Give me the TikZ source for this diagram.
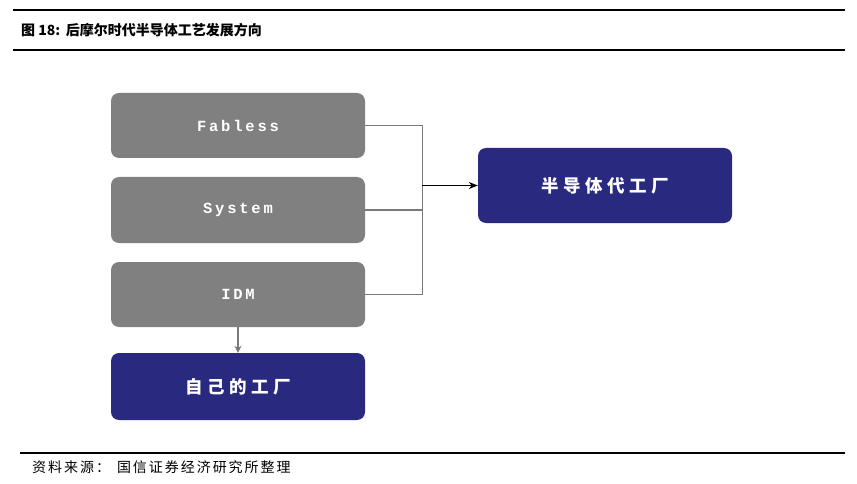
\documentclass[tikz,border=0pt]{standalone}
\usepackage{fontspec}
\setmainfont{Liberation Sans}
\newfontfamily\cjk{Noto Sans CJK SC}
\newfontfamily\cjkbox[LetterSpace=26]{Noto Sans CJK SC}
\newfontfamily\cjksrc[LetterSpace=14]{Noto Sans CJK SC}
\newfontfamily\boxmono[LetterSpace=18]{Liberation Mono}
\usetikzlibrary{arrows.meta}
\definecolor{boxgray}{HTML}{808080}
\definecolor{navy}{HTML}{28297F}
\definecolor{linegray}{HTML}{7A7A7A}
\begin{document}
\begin{tikzpicture}[x=1pt,y=-1pt,
  gbox/.style={fill=boxgray, rounded corners=8pt, minimum width=254pt, minimum height=65pt, inner sep=0pt, text=white, font=\boxmono\bfseries\fontsize{15.5}{18}\selectfont},
  nbox/.style={fill=navy, rounded corners=8pt, minimum width=254pt, inner sep=0pt, text=white, font=\cjkbox\bfseries\fontsize{17.5}{20}\selectfont},
  link/.style={draw=linegray, line width=1.3pt},
  arr/.style={draw=black, line width=1.3pt, -{Stealth[length=9pt,width=7pt]}},
  rule/.style={draw=black, line width=1.2pt}]
\useasboundingbox (0,0) rectangle (857,484);
\coordinate (t1a) at (13,10); \coordinate (t1b) at (845,10);
\coordinate (t2a) at (13,50); \coordinate (t2b) at (845,50);
\coordinate (b1a) at (20,453); \coordinate (b1b) at (845,453);
\draw[rule] (t1a) -- (t1b);
\draw[rule] (t2a) -- (t2b);
\draw[rule, line width=1.8pt] (b1a) -- (b1b);
\node[anchor=west, inner sep=0pt, font=\cjk\bfseries\fontsize{14}{17}\selectfont] (title) at (21,30) {图 18:\hspace{0.4em}后摩尔时代半导体工艺发展方向};
\node[anchor=west, inner sep=0pt, font=\cjksrc\fontsize{14}{17}\selectfont] (src) at (32,467) {资料来源：\hspace{0.5em}国信证券经济研究所整理};
\node[gbox] (fab) at (238,125.5) {Fabless};
\node[gbox, minimum height=66pt] (sys) at (238,210) {System};
\node[gbox] (idm) at (238,294.5) {IDM};
\node[nbox, minimum height=67pt] (own) at (238,386.5) {自己的工厂};
\node[nbox, minimum height=75pt] (fdy) at (605,185.5) {半导体代工厂};
\coordinate (j) at (422,185.5);
\draw[link] (fab.east) -- ++(57,0) |- (idm.east);
\draw[link] (sys.east) -- (sys.east -| j);
\draw[arr] (j) -- (fdy.west);
\draw[arr, draw=linegray, line width=1.4pt, -{Stealth[length=7pt,width=7pt,fill=black]}] (idm.south) -- (own.north);
\end{tikzpicture}
\end{document}
